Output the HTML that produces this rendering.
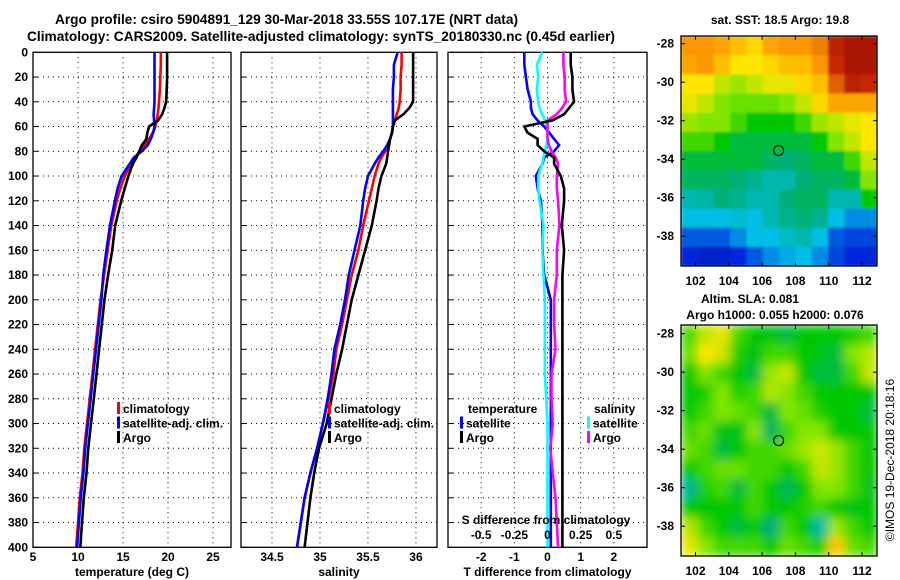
<!DOCTYPE html>
<html><head><meta charset="utf-8"><style>
html,body{margin:0;padding:0;background:#fff;}
svg{display:block;font-family:"Liberation Sans",Arial,sans-serif;font-weight:bold;}
</style></head><body>
<svg id="fig" width="900" height="580" viewBox="0 0 900 580" xmlns="http://www.w3.org/2000/svg">
<defs>
<filter id="blurA" x="0" y="0" width="1" height="1"><feGaussianBlur stdDeviation="1.2" edgeMode="duplicate"/></filter>
<filter id="blurB" x="0" y="0" width="1" height="1"><feGaussianBlur stdDeviation="5" edgeMode="duplicate"/></filter>
<clipPath id="clipM1"><rect x="681" y="36" width="196" height="230"/></clipPath>
<clipPath id="clipM2"><rect x="681" y="325" width="196" height="231"/></clipPath>
</defs>
<text x="55" y="24" font-size="14" textLength="463" lengthAdjust="spacingAndGlyphs">Argo profile: csiro 5904891_129 30-Mar-2018 33.55S 107.17E (NRT data)</text>
<text x="27" y="41" font-size="14" textLength="588" lengthAdjust="spacingAndGlyphs">Climatology: CARS2009. Satellite-adjusted climatology: synTS_20180330.nc (0.45d earlier)</text>
<text x="780" y="24" font-size="12" text-anchor="middle">sat. SST: 18.5 Argo: 19.8</text>
<text x="750" y="303" font-size="12" text-anchor="middle">Altim. SLA: 0.081</text>
<text x="775" y="319" font-size="12" text-anchor="middle">Argo h1000: 0.055 h2000: 0.076</text>
<text transform="translate(894,460) rotate(-90)" font-size="12" font-weight="normal" text-anchor="middle">©IMOS 19-Dec-2018 20:18:16</text>
<g id="g"></g>
</svg>
<script>
// ---- profile data ----
const depths = [0,10,20,30,40,45,50,55,60,65,70,75,80,85,90,100,110,120,140,160,180,200,220,240,260,280,300,320,340,360,380,400];
const argoT = [19.9,19.9,19.9,19.85,19.8,19.6,19.35,18.9,17.9,17.7,17.6,17.1,16.8,16.5,16.1,15.6,15.2,14.8,14.13,13.8,13.35,12.95,12.65,12.35,12.05,11.75,11.45,11.15,10.95,10.65,10.45,10.25];
const climT = [19.2,19.2,19.15,19.1,19.0,18.95,18.85,18.75,18.6,18.3,17.9,17.4,16.9,16.3,15.9,15.2,14.7,14.3,13.7,13.3,12.9,12.5,12.2,11.9,11.6,11.3,11.0,10.7,10.5,10.2,10.0,9.8];
const satT  = [18.5,18.5,18.5,18.5,18.5,18.45,18.4,18.45,18.5,18.35,18.1,17.75,17.1,16.2,15.75,14.85,14.4,14.1,13.55,13.15,12.8,12.6,12.3,12.0,11.7,11.4,11.1,10.8,10.6,10.3,10.1,9.9];
const argoS = [35.97,35.97,35.97,35.97,35.97,35.93,35.87,35.78,35.76,35.75,35.73,35.72,35.71,35.70,35.69,35.64,35.61,35.59,35.54,35.47,35.40,35.33,35.28,35.23,35.17,35.12,35.07,34.99,34.94,34.90,34.87,34.84];
const climS = [35.85,35.85,35.84,35.84,35.83,35.82,35.80,35.78,35.76,35.75,35.73,35.71,35.68,35.64,35.61,35.57,35.54,35.51,35.45,35.40,35.33,35.28,35.23,35.17,35.14,35.09,35.03,34.97,34.90,34.84,34.80,34.76];
const satS  = [35.81,35.77,35.77,35.76,35.76,35.76,35.76,35.76,35.76,35.75,35.73,35.70,35.66,35.61,35.57,35.50,35.47,35.45,35.42,35.36,35.30,35.26,35.21,35.15,35.12,35.08,35.03,34.97,34.90,34.84,34.80,34.76];
const depthTicks = [0,20,40,60,80,100,120,140,160,180,200,220,240,260,280,300,320,340,360,380,400];
const tempTicks = [5,10,15,20,25];
const salTicks = [34.5,35,35.5,36];
const salTickLabels = ["34.5","35","35.5","36"];
const diffTicks = [-2,-1,0,1,2];
const sDiffTicks = [-0.5,-0.25,0,0.25,0.5];
const sDiffLabels = ["-0.5","-0.25","0","0.25","0.5"];
// ---- map data (colour index 0..1) ----
const mapLonTicks = [102,104,106,108,110,112];
const mapLatTicks = [-28,-30,-32,-34,-36,-38];
const argoLon = 107.17, argoLat = -33.55;
const sstGrid = [
[0.8,0.8,0.78,0.75,0.72,0.78,0.8,0.8,0.82,0.92,0.95,0.95],
[0.78,0.8,0.75,0.7,0.7,0.72,0.75,0.75,0.8,0.9,0.95,0.95],
[0.7,0.7,0.65,0.62,0.65,0.68,0.68,0.72,0.75,0.85,0.92,0.9],
[0.68,0.65,0.6,0.58,0.58,0.58,0.6,0.65,0.72,0.78,0.78,0.78],
[0.62,0.6,0.6,0.55,0.5,0.5,0.5,0.55,0.62,0.65,0.68,0.7],
[0.55,0.55,0.5,0.45,0.45,0.45,0.45,0.45,0.5,0.6,0.65,0.7],
[0.45,0.45,0.45,0.45,0.45,0.42,0.4,0.42,0.45,0.45,0.55,0.65],
[0.42,0.42,0.42,0.4,0.38,0.35,0.35,0.4,0.42,0.42,0.45,0.6],
[0.35,0.36,0.4,0.38,0.35,0.35,0.4,0.42,0.42,0.35,0.35,0.5],
[0.3,0.3,0.3,0.32,0.3,0.35,0.38,0.4,0.38,0.3,0.25,0.25],
[0.2,0.2,0.2,0.25,0.3,0.3,0.33,0.35,0.3,0.2,0.18,0.18],
[0.15,0.12,0.12,0.15,0.2,0.25,0.28,0.3,0.25,0.18,0.15,0.15]];
const slaGrid = [
[0.55,0.65,0.68,0.55,0.5,0.48,0.45,0.5,0.5,0.5,0.52,0.55],
[0.58,0.7,0.66,0.52,0.48,0.55,0.55,0.5,0.48,0.45,0.6,0.64],
[0.5,0.6,0.55,0.5,0.45,0.62,0.65,0.5,0.45,0.45,0.55,0.65],
[0.5,0.52,0.6,0.52,0.55,0.64,0.6,0.55,0.5,0.5,0.5,0.5],
[0.5,0.55,0.6,0.58,0.55,0.45,0.6,0.58,0.52,0.5,0.5,0.45],
[0.55,0.58,0.48,0.48,0.6,0.42,0.55,0.6,0.6,0.5,0.5,0.5],
[0.58,0.55,0.45,0.5,0.55,0.55,0.58,0.62,0.66,0.62,0.55,0.5],
[0.5,0.55,0.58,0.58,0.55,0.55,0.5,0.55,0.65,0.62,0.55,0.5],
[0.38,0.52,0.55,0.45,0.55,0.5,0.43,0.5,0.6,0.6,0.55,0.48],
[0.5,0.5,0.5,0.5,0.55,0.5,0.5,0.52,0.55,0.5,0.48,0.5],
[0.64,0.55,0.5,0.45,0.5,0.4,0.55,0.5,0.36,0.62,0.55,0.5],
[0.68,0.6,0.55,0.55,0.55,0.5,0.58,0.55,0.52,0.74,0.58,0.55]];

const NS='http://www.w3.org/2000/svg';
const G=document.getElementById('g');
function mk(tag,attrs,parent){const e=document.createElementNS(NS,tag);for(const k in attrs)e.setAttribute(k,attrs[k]);(parent||G).appendChild(e);return e;}
function txt(s,x,y,anchor,size,parent){const t=mk('text',{x:x,y:y,'text-anchor':anchor||'start','font-size':size||12},parent);t.textContent=s;return t;}

const PT=52.3, PB=547.3;
function yD(d){return PT+(PB-PT)*d/400;}
const panels=[
 {name:'temperature',x0:33,x1:231,d0:5,d1:27},
 {name:'salinity',x0:241,x1:437,d0:34.177,d1:36.219},
 {name:'difference',x0:448,x1:647,d0:-3,d1:3}];
function sx(p,v){return p.x0+(v-p.d0)/(p.d1-p.d0)*(p.x1-p.x0);}

function drawPanel(p,ticks,labels,title){
  const g=mk('g',{});
  
  
  depthTicks.forEach(d=>{if(d>0&&d<400){const l=mk('line',{x1:p.x0,x2:p.x1,y1:yD(d),y2:yD(d),stroke:'#000','stroke-width':1,'stroke-dasharray':'1 4'},g);
    }
    const t1=mk('line',{x1:p.x0,x2:p.x0+5,y1:yD(d),y2:yD(d),stroke:'#000'},g);
    });
  ticks.forEach((v,i)=>{const x=sx(p,v);
    const l=mk('line',{x1:x,x2:x,y1:PT,y2:PB,stroke:'#000','stroke-width':1,'stroke-dasharray':'1 4'},g);
    
    const t=txt(labels[i],x,561,'middle',12,g);
    });
  const r=mk('rect',{x:p.x0,y:PT,width:p.x1-p.x0,height:PB-PT,fill:'none',stroke:'#000','stroke-width':1.3},g);
  
  const at=txt(title,(p.x0+p.x1)/2,576,'middle',12,g);
  
  return g;
}
function line(p,vals,color,name,g,scale){
  const pts=depths.map((d,i)=>sx(p,vals[i]*(scale||1)).toFixed(1)+','+yD(d).toFixed(1)).join(' ');
  const pl=mk('polyline',{points:pts,fill:'none',stroke:color,'stroke-width':2.6,'stroke-linejoin':'miter'},g);
  
  
}
function legend(entries,x,y0,g){
  entries.forEach((e,i)=>{const y=y0+i*14.5;
    const b=mk('rect',{x:x,y:y-11,width:3,height:12,fill:e[1]},g);
    
    const t=txt(e[0],x+6,y,'start',12,g);
    });
}
depthTicks.forEach(d=>{const t=txt(String(d),28,yD(d)+4,'end',12);
  });

const g1=drawPanel(panels[0],tempTicks,tempTicks.map(String),'temperature (deg C)');
line(panels[0],climT,'#f00','clim-temperature-line',g1);
line(panels[0],satT,'#00f','sat-temperature-line',g1);
line(panels[0],argoT,'#000','argo-temperature-line',g1);
legend([['climatology','#f00'],['satellite-adj. clim.','#00f'],['Argo','#000']],117,413,g1);

const g2=drawPanel(panels[1],salTicks,salTickLabels,'salinity');
line(panels[1],climS,'#f00','clim-salinity-line',g2);
line(panels[1],satS,'#00f','sat-salinity-line',g2);
line(panels[1],argoS,'#000','argo-salinity-line',g2);
legend([['climatology','#f00'],['satellite-adj. clim.','#00f'],['Argo','#000']],328,413,g2);

const g3=drawPanel(panels[2],diffTicks,diffTicks.map(String),'T difference from climatology');
const dSatT=satT.map((v,i)=>v-climT[i]), dArgoT=argoT.map((v,i)=>v-climT[i]);
const dSatS=satS.map((v,i)=>v-climS[i]), dArgoS=argoS.map((v,i)=>v-climS[i]);
line(panels[2],dSatT,'#00f','sat-temp-diff-line',g3);
line(panels[2],dSatS,'#0ff','sat-sal-diff-line',g3,4);
line(panels[2],dArgoS,'#f0f','argo-sal-diff-line',g3,4);
line(panels[2],dArgoT,'#000','argo-temp-diff-line',g3);
let tt=txt('temperature',468,413,'start',12,g3);
legend([['satellite','#00f'],['Argo','#000']],460,427.5,g3);
tt=txt('salinity',594,413,'start',12,g3);
legend([['satellite','#0ff'],['Argo','#f0f']],587,427.5,g3);
tt=txt('S difference from climatology',546,524,'middle',12,g3);
sDiffTicks.forEach((v,i)=>{const t=txt(sDiffLabels[i],sx(panels[2],v*4),539,'middle',12,g3);
  });

// ---- maps ----
const cmapStops=[[0,0,0,130],[0.15,0,40,220],[0.3,0,190,230],[0.4,0,175,120],[0.5,0,200,0],[0.6,130,230,0],[0.7,255,230,0],[0.8,250,150,0],[0.9,200,40,0],[1,140,0,0]];
function jet(v){
  v=Math.max(0,Math.min(1,v));
  for(let i=1;i<cmapStops.length;i++){const a=cmapStops[i-1],b=cmapStops[i];
    if(v<=b[0]){const f=(v-a[0])/(b[0]-a[0]);
      return 'rgb('+[1,2,3].map(k=>Math.round(a[k]+(b[k]-a[k])*f)).join(',')+')';}}
  return 'rgb(140,0,0)';
}
function drawMap(grid,m,clip,filt,name){
  const g=mk('g',{});
  
  
  const cg=mk('g',{'clip-path':'url(#'+clip+')'},g);
  const ig=mk('g',{filter:'url(#'+filt+')'},cg);
  const rows=grid.length, cols=grid[0].length;
  const cw=(m.x1-m.x0)/cols, ch=(m.y1-m.y0)/rows;
  grid.forEach((row,r)=>row.forEach((v,c)=>{
    const cell=mk('rect',{x:m.x0+c*cw,y:m.y0+r*ch,width:cw+0.6,height:ch+0.6,fill:jet(v)},ig);
    
    
  }));
  const lx=v=>695.5+(v-102)*16.65, ly=v=>m.lat28+(-28-v)*m.dy;
  const fr=mk('rect',{x:m.x0,y:m.y0,width:m.x1-m.x0,height:m.y1-m.y0,fill:'none',stroke:'#000','stroke-width':1.3},g);
  
  mapLonTicks.forEach(v=>{const x=lx(v);
    mk('line',{x1:x,x2:x,y1:m.y1,y2:m.y1-4,stroke:'#000'},g);mk('line',{x1:x,x2:x,y1:m.y0,y2:m.y0+4,stroke:'#000'},g);
    const t=txt(String(v),x,m.y1+19,'middle',12,g);});
  mapLatTicks.forEach(v=>{const y=ly(v);
    mk('line',{x1:m.x0,x2:m.x0+4,y1:y,y2:y,stroke:'#000'},g);mk('line',{x1:m.x1,x2:m.x1-4,y1:y,y2:y,stroke:'#000'},g);
    const t=txt(String(v),674,y+4,'end',12,g);});
  const c=mk('circle',{cx:lx(argoLon)-3,cy:ly(argoLat),r:5,fill:'none',stroke:'#000','stroke-width':1.2},g);
  
}
drawMap(sstGrid,{x0:681,x1:877,y0:36,y1:266,lat28:43.7,dy:19.25},'clipM1','blurA','sst-map');
drawMap(slaGrid,{x0:681,x1:877,y0:325,y1:556,lat28:333.7,dy:19.25},'clipM2','blurB','sla-map');
</script>
</body></html>
